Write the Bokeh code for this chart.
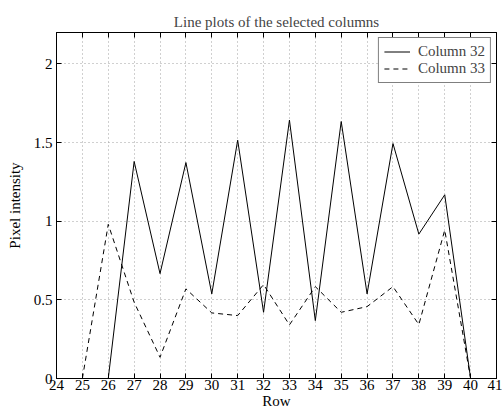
from bokeh.plotting import figure
from bokeh.models import (FixedTicker, LinearAxis, Legend, LegendItem, Range1d)
from bokeh.embed import file_html
from bokeh.resources import INLINE

rows = [25, 26, 27, 28, 29, 30, 31, 32, 33, 34, 35, 36, 37, 38, 39, 40]
col32 = [0.0, 0.0, 1.38, 0.667, 1.373, 0.538, 1.515, 0.421, 1.643, 0.368,
         1.634, 0.538, 1.494, 0.918, 1.168, 0.0]
col33 = [0.0, 0.98, 0.485, 0.135, 0.57, 0.417, 0.40, 0.597, 0.341, 0.584,
         0.421, 0.457, 0.584, 0.343, 0.944, 0.0]
x_ticks = list(range(24, 42))
y_ticks = [0, 0.5, 1, 1.5, 2]
y_tick_labels = ["0", "0.5", "1", "1.5", "2"]

FONT = "Liberation Serif"

p = figure(width=502, height=412, output_backend="svg", toolbar_location=None,
           x_range=Range1d(24, 41), y_range=Range1d(0, 2.2),
           min_border_left=56, min_border_right=6, min_border_top=32,
           min_border_bottom=34, background_fill_color="white",
           border_fill_color="white")

p.title.text = "Line plots of the selected columns"
p.title.align = "center"
p.title.text_font = FONT
p.title.text_font_size = "15px"
p.title.text_font_style = "normal"
p.title.offset = 0
p.title.standoff = 6

p.outline_line_color = "black"
p.outline_line_width = 1
p.outline_line_alpha = 1

for ax in (p.xaxis[0], p.yaxis[0]):
    ax.major_tick_in = 5
    ax.major_tick_out = 0
    ax.minor_tick_in = 0
    ax.minor_tick_out = 0
    ax.axis_line_color = "black"
    ax.major_tick_line_color = "black"
    ax.major_label_text_font = FONT
    ax.major_label_text_font_size = "15px"
    ax.major_label_text_color = "black"
    ax.axis_label_text_font = FONT
    ax.axis_label_text_font_size = "15px"
    ax.axis_label_text_font_style = "normal"
    ax.axis_label_text_color = "black"

p.xaxis[0].ticker = FixedTicker(ticks=x_ticks)
p.yaxis[0].ticker = FixedTicker(ticks=y_ticks)
p.yaxis[0].major_label_overrides = {t: l for t, l in zip(y_ticks, y_tick_labels)}
p.xaxis[0].axis_label = "Row"
p.yaxis[0].axis_label = "Pixel intensity"
p.xaxis[0].major_label_standoff = 1
p.xaxis[0].axis_label_standoff = 0
p.yaxis[0].major_label_standoff = 4
p.yaxis[0].axis_label_standoff = 8

# top and right axes with inward ticks, no labels
top = LinearAxis(ticker=FixedTicker(ticks=x_ticks), major_label_text_font_size="0px",
                 major_tick_in=5, major_tick_out=0, minor_tick_in=0, minor_tick_out=0,
                 axis_line_color="black", major_label_standoff=0)
right = LinearAxis(ticker=FixedTicker(ticks=y_ticks), major_label_text_font_size="0px",
                   major_tick_in=5, major_tick_out=0, minor_tick_in=0, minor_tick_out=0,
                   axis_line_color="black", major_label_standoff=0)
top.major_label_overrides = {t: "" for t in x_ticks}
right.major_label_overrides = {t: "" for t in y_ticks}
p.add_layout(top, "above")
p.add_layout(right, "right")

p.xgrid.ticker = FixedTicker(ticks=x_ticks)
p.ygrid.ticker = FixedTicker(ticks=y_ticks)
for g in (p.xgrid[0], p.ygrid[0]):
    g.grid_line_color = "#a0a0a0"
    g.grid_line_dash = "1 3"
    g.grid_line_width = 1

r1 = p.line(rows, col32, line_color="black", line_width=1)
r2 = p.line(rows, col33, line_color="black", line_width=1, line_dash="5 4")

legend = Legend(items=[LegendItem(label="Column 32", renderers=[r1]),
                       LegendItem(label="Column 33", renderers=[r2])],
                location="top_right", border_line_color="black", border_line_width=1,
                label_text_font=FONT, label_text_font_size="15px",
                glyph_width=26, glyph_height=15, spacing=0, padding=5,
                margin=5, label_height=15, label_standoff=8,
                background_fill_alpha=1, background_fill_color="white")
p.add_layout(legend)

open("out.html", "w").write(file_html(p, INLINE))
